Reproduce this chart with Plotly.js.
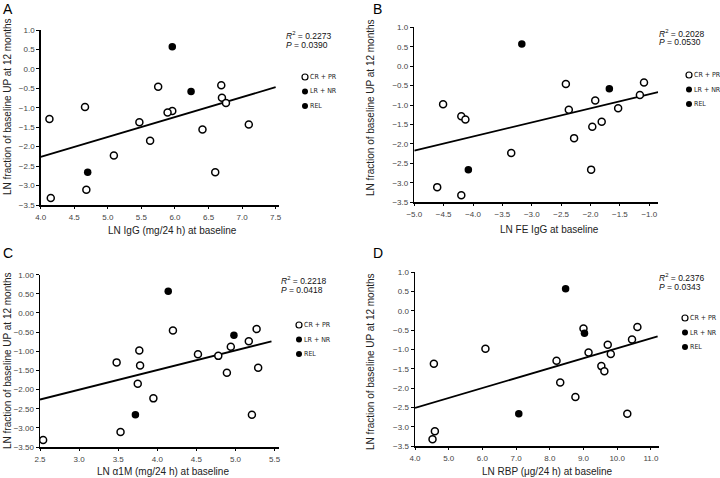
<!DOCTYPE html>
<html>
<head>
<meta charset="utf-8">
<script src="https://cdn.plot.ly/plotly-3.0.1.min.js"></script>
<style>
  html, body { margin: 0; padding: 0; background: #fff; }
  #chart { width: 720px; height: 478px; }
</style>
</head>
<body>
<div id="chart"></div>
<script>
// Patients, ordered by outcome (same 19 patients in every panel)
const upChange = [0.57, -0.42, -0.46, -0.58, -0.74, -0.88, -0.98, -1.08, -1.12, -1.29,
                  -1.37, -1.43, -1.56, -1.85, -2.23, -2.66, -2.66, -3.11, -3.32];
const response = ['REL', 'CR + PR', 'CR + PR', 'LR + NR', 'CR + PR', 'CR + PR', 'CR + PR',
                  'CR + PR', 'CR + PR', 'CR + PR', 'CR + PR', 'CR + PR', 'CR + PR', 'CR + PR',
                  'CR + PR', 'CR + PR', 'LR + NR', 'CR + PR', 'CR + PR'];

// Baseline predictors (LN scale), same patient order
const lnIgG   = [5.96, 6.69, 5.75, 6.24, 6.70, 6.76, 4.66, 5.96, 5.89, 4.13,
                 5.47, 7.10, 6.41, 5.63, 5.09, 6.60, 4.70, 4.68, 4.15];
const lnFeIgG = [-3.17, -1.09, -2.42, -1.68, -1.16, -1.92, -4.51, -1.53, -2.37, -4.20,
                 -4.13, -1.81, -1.97, -2.28, -3.35, -1.99, -4.08, -4.61, -4.20];
const lnA1M   = [4.14, 5.27, 4.20, 4.98, 5.17, 4.94, 3.77, 4.52, 4.78, 3.48,
                 3.78, 5.29, 4.89, 3.75, 3.95, 5.21, 3.72, 3.53, 2.54];
const lnRBP   = [8.47, 10.60, 9.00, 9.03, 10.44, 9.72, 6.09, 9.15, 9.81, 8.20,
                 4.56, 9.53, 9.62, 8.31, 8.76, 10.30, 7.08, 4.59, 4.52];

// Regression line end points
const fitX = [[4.0, 7.5], [-5.0, -0.85], [2.5, 5.46], [4.0, 11.2]];
const fitY = [[-2.26, -0.47], [-2.17, -0.67], [-2.26, -0.74], [-2.51, -0.66]];

const rSquared = ['0.2273', '0.2028', '0.2218', '0.2376'];
const pValues  = ['0.0390', '0.0530', '0.0418', '0.0343'];

const panelLetters = ['A', 'B', 'C', 'D'];
const xTitles = ['LN IgG (mg/24 h) at baseline', 'LN FE IgG at baseline',
                 'LN \u03b11M (mg/24 h) at baseline', 'LN RBP (\u03bcg/24 h) at baseline'];
const yTitle = 'LN fraction of baseline UP at 12 months';
const groups = ['CR + PR', 'LR + NR', 'REL'];

const predictors = [lnIgG, lnFeIgG, lnA1M, lnRBP];

// pixel -> paper helpers
const W = 720, H = 478;
const px = (x) => x / W;
const py = (y) => 1 - y / H;

// panel geometry (pixels)
const panels = [
  { l: 40.7, r: 279, t: 30, b: 205, xr: [4, 7.55], dx: 0.5, yfmt: '.1f',
    letter: [8, 9], xt: [172, 230], yt: [7, 107], stat: [284, 35], leg: [305, 77] },
  { l: 414.3, r: 658.1, t: 27.3, b: 202.3, xr: [-5, -0.85], dx: 0.5, yfmt: '.1f',
    letter: [377, 9], xt: [549, 229], yt: [370, 107], stat: [657, 33], leg: [689, 75] },
  { l: 40, r: 278.5, t: 274.7, b: 447, xr: [2.5, 5.55], dx: 0.5, yfmt: '.2f',
    letter: [8, 253], xt: [163, 471], yt: [7, 361], stat: [279, 280], leg: [299, 325] },
  { l: 415, r: 659.3, t: 272, b: 446.3, xr: [4, 11.25], dx: 1, yfmt: '.1f',
    letter: [378, 253], xt: [547, 471], yt: [370, 361], stat: [657, 277], leg: [685, 318] }
];

const traces = [];
const layout = {
  width: W, height: H,
  margin: { l: 0, r: 0, t: 0, b: 0 },
  paper_bgcolor: '#fff', plot_bgcolor: '#fff',
  showlegend: false,
  font: { family: 'Liberation Sans, Arial, sans-serif', color: '#222' },
  annotations: [],
  shapes: []
};

const legendFont = { family: 'Liberation Sans Narrow, DejaVu Sans Condensed, Roboto Condensed, sans-serif', size: 7, color: '#222' };

panels.forEach((p, i) => {
  const n = i === 0 ? '' : String(i + 1);
  const xa = 'x' + n, ya = 'y' + n;

  layout['xaxis' + n] = {
    domain: [px(p.l), px(p.r)], anchor: ya, range: p.xr, dtick: p.dx, tick0: 0,
    tickformat: '.1f', showgrid: false, zeroline: false,
    showline: true, linecolor: '#000', linewidth: 1.5,
    ticks: 'outside', ticklen: 2, tickcolor: '#000', tickwidth: 1, ticklabelstandoff: 2,
    tickfont: { size: 8, color: '#444' }, fixedrange: true
  };
  layout['yaxis' + n] = {
    domain: [py(p.b), py(p.t)], anchor: xa, range: [-3.5, 1.0], dtick: 0.5,
    tickformat: p.yfmt, showgrid: false, zeroline: false,
    showline: true, linecolor: '#000', linewidth: 1.5,
    ticks: 'outside', ticklen: 3, tickcolor: '#000', tickwidth: 1,
    tickfont: { size: 8, color: '#444' }, fixedrange: true
  };

  // regression line
  traces.push({
    x: fitX[i], y: fitY[i], xaxis: xa, yaxis: ya, type: 'scatter', mode: 'lines',
    line: { color: '#000', width: 1.8 }, hoverinfo: 'skip'
  });

  // points by response group
  groups.forEach((g) => {
    const xs = [], ys = [];
    response.forEach((r, k) => {
      if (r === g) { xs.push(predictors[i][k]); ys.push(upChange[k]); }
    });
    const open = g === 'CR + PR';
    traces.push({
      x: xs, y: ys, xaxis: xa, yaxis: ya, type: 'scatter', mode: 'markers', name: g,
      marker: { size: open ? 7 : 7.5, color: open ? '#fff' : '#000',
                line: { color: '#000', width: open ? 1.5 : 0 } },
      cliponaxis: false
    });
  });

  // panel letter
  layout.annotations.push({
    text: panelLetters[i], xref: 'paper', yref: 'paper', x: px(p.letter[0]), y: py(p.letter[1]),
    xanchor: 'center', yanchor: 'middle', showarrow: false, font: { size: 14, color: '#000' }
  });
  // axis titles
  layout.annotations.push({
    text: xTitles[i], xref: 'paper', yref: 'paper', x: px(p.xt[0]), y: py(p.xt[1]),
    xanchor: 'center', yanchor: 'middle', showarrow: false, font: { size: 10, color: '#222' }
  });
  layout.annotations.push({
    text: yTitle, xref: 'paper', yref: 'paper', x: px(p.yt[0]), y: py(p.yt[1]), textangle: -90,
    xanchor: 'center', yanchor: 'middle', showarrow: false, font: { size: 10, color: '#222' }
  });
  // statistics
  layout.annotations.push({
    text: '<i>R</i><sup>2</sup> = ' + rSquared[i], xref: 'paper', yref: 'paper',
    x: px(p.stat[0]), y: py(p.stat[1]), xanchor: 'left', yanchor: 'middle',
    showarrow: false, font: { size: 8.5, color: '#111' }
  });
  layout.annotations.push({
    text: '<i>P</i> = ' + pValues[i], xref: 'paper', yref: 'paper',
    x: px(p.stat[0]), y: py(p.stat[1] + 9.5), xanchor: 'left', yanchor: 'middle',
    showarrow: false, font: { size: 8.5, color: '#111' }
  });

  // legend: small circle + label for each group
  groups.forEach((g, k) => {
    const lx = p.leg[0], ly = p.leg[1] + k * 14.5;
    const open = g === 'CR + PR';
    layout.shapes.push({
      type: 'circle', xref: 'paper', yref: 'paper',
      xsizemode: 'pixel', ysizemode: 'pixel', xanchor: px(lx), yanchor: py(ly),
      x0: -3, x1: 3, y0: -3, y1: 3,
      fillcolor: open ? '#fff' : '#000', line: { color: '#000', width: open ? 1.2 : 0 }
    });
    layout.annotations.push({
      text: g, xref: 'paper', yref: 'paper', x: px(lx + 3), y: py(ly),
      xanchor: 'left', yanchor: 'middle', showarrow: false, font: legendFont
    });
  });
});

Plotly.newPlot('chart', traces, layout, { staticPlot: true });
</script>
</body>
</html>
